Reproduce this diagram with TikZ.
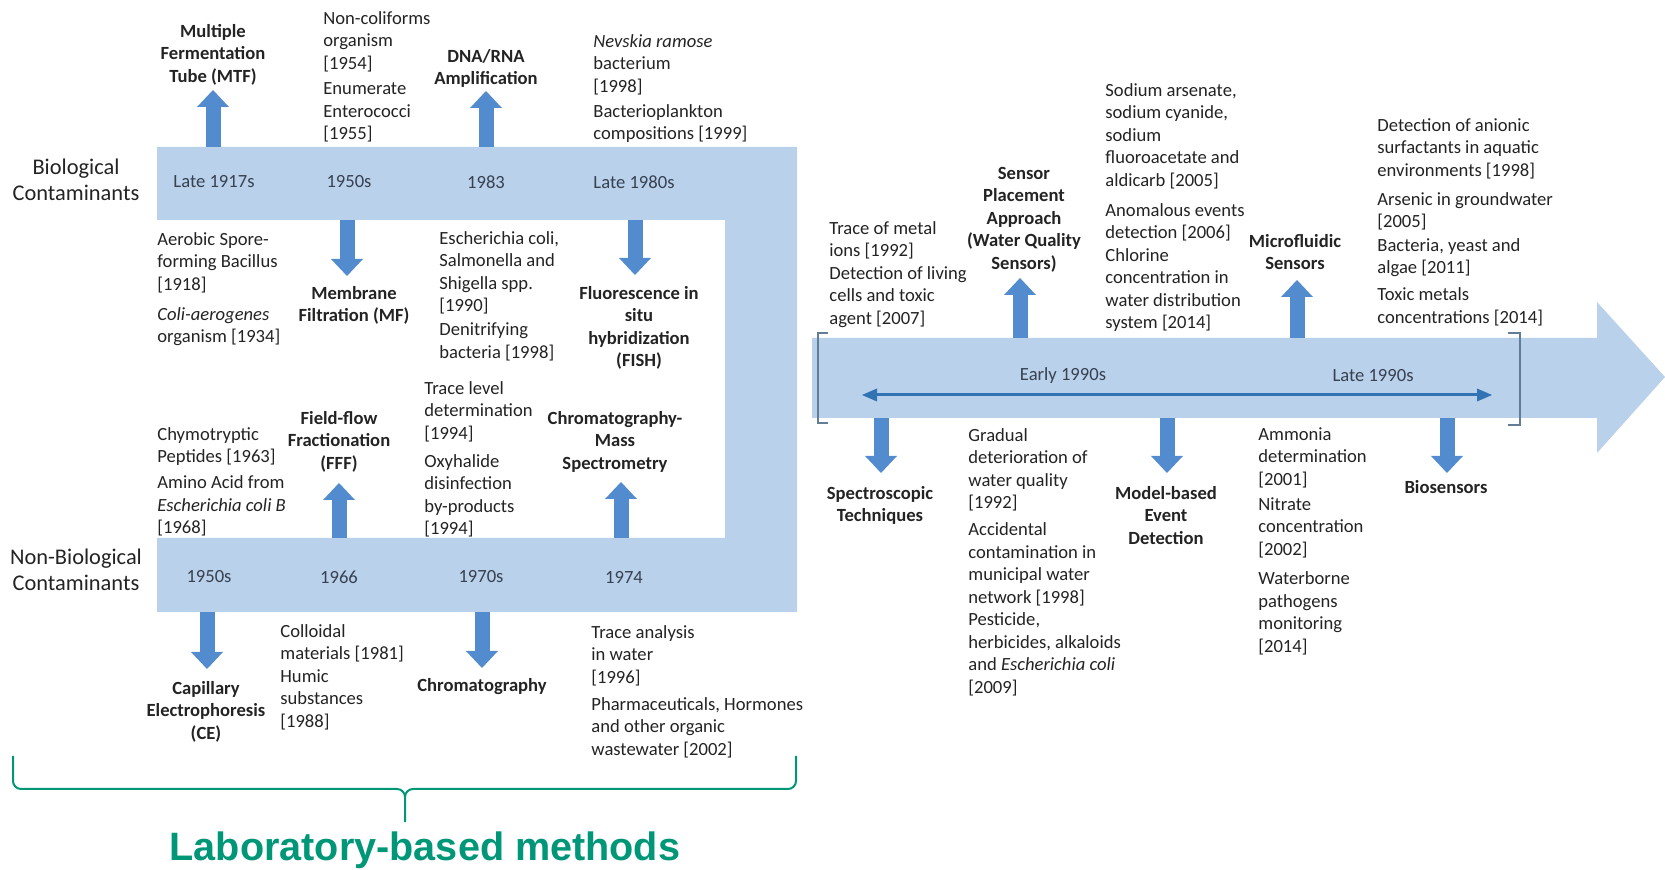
\documentclass[tikz,border=0pt]{standalone}
\usepackage{fontspec}
\setmainfont{Carlito}
\newfontfamily\labfont{Liberation Sans}
\usetikzlibrary{arrows.meta}
\definecolor{bandc}{RGB}{186,209,235}
\definecolor{arrc}{RGB}{82,140,206}
\definecolor{thinc}{RGB}{50,115,180}
\definecolor{txtc}{RGB}{35,35,35}
\definecolor{yrc}{RGB}{55,65,80}
\definecolor{brkc}{RGB}{100,125,150}
\definecolor{teal}{RGB}{0,150,120}
\tikzset{
  txt/.style={anchor=north west, align=left, inner sep=0pt, font=\fontsize{9.3}{11.25}\selectfont, text=txtc},
  lbl/.style={anchor=north, align=center, inner sep=0pt, font=\fontsize{9.3}{11.25}\selectfont\bfseries, text=txtc},
  grp/.style={anchor=north, align=center, inner sep=0pt, font=\fontsize{11.2}{13.3}\selectfont, text=txtc},
  yr/.style={anchor=center, inner sep=0pt, font=\fontsize{9.3}{11.25}\selectfont, text=yrc},
  barrow/.style={draw=arrc, line width=7.5pt, line cap=butt, -{Triangle[length=8.5pt,width=16pt,line width=0pt]}},
  tline/.style={draw=thinc, line width=1.5pt, {Triangle[length=7.5pt,width=6.5pt,line width=0pt]}-{Triangle[length=7.5pt,width=6.5pt,line width=0pt]}},
  brk/.style={draw=brkc, line width=0.8pt},
  brace/.style={draw=teal, line width=1pt},
}
\begin{document}
\begin{tikzpicture}[x=0.5pt,y=-0.5pt]
\useasboundingbox (0,0) rectangle (1665,870);
% bands
\fill[bandc] (157,147) -- (797,147) -- (797,612) -- (157,612) -- (157,538) -- (725,538) -- (725,220) -- (157,220) -- cycle;
\fill[bandc] (812,338) -- (1597,338) -- (1597,302) -- (1665,377) -- (1597,453) -- (1597,418) -- (812,418) -- cycle;
% brackets
\draw[brk] (828,333) -- (818,333) -- (818,423) -- (828,423);
\draw[brk] (1508,333) -- (1520,333) -- (1520,425) -- (1508,425);
% group labels
\node[grp] (bio) at (76,155) {\strut Biological\\Contaminants};
\node[grp] (nonbio) at (76,545) {\strut Non-Biological\\Contaminants};
% year labels
\node[yr] (y1917) at (214,182) {Late 1917s};
\node[yr] (y1950b) at (349,182) {1950s};
\node[yr] (y1983) at (486,182) {1983};
\node[yr] (y1980s) at (634,182) {Late 1980s};
\node[yr] (y1950n) at (209,577) {1950s};
\node[yr] (y1966) at (339,577) {1966};
\node[yr] (y1970s) at (481,577) {1970s};
\node[yr] (y1974) at (624,577) {1974};
\node[yr] (early) at (1063,376) {Early 1990s};
\node[yr] (late) at (1373,376) {Late 1990s};
% method labels
\node[lbl] (mtf) at (213,21) {\strut Multiple\\Fermentation\\Tube (MTF)};
\node[lbl] (dna) at (486,46) {\strut DNA/RNA\\Amplification};
\node[lbl] (mf) at (354,283) {\strut Membrane\\Filtration (MF)};
\node[lbl] (fish) at (639,283) {\strut Fluorescence in\\situ\\hybridization\\(FISH)};
\node[lbl] (fff) at (339,408) {\strut Field-flow\\Fractionation\\(FFF)};
\node[lbl] (cms) at (615,408) {\strut Chromatography-\\Mass\\Spectrometry};
\node[lbl] (ce) at (206,678) {\strut Capillary\\Electrophoresis\\(CE)};
\node[lbl] (chrom) at (482,675) {\strut Chromatography};
\node[lbl] (spa) at (1024,163) {\strut Sensor\\Placement\\Approach\\(Water Quality\\Sensors)};
\node[lbl] (micro) at (1295,231) {\strut Microfluidic\\Sensors};
\node[lbl] (spec) at (880,483) {\strut Spectroscopic\\Techniques};
\node[lbl] (model) at (1166,483) {\strut Model-based\\Event\\Detection};
\node[lbl] (bios) at (1446,477) {\strut Biosensors};
% text blocks
\node[txt] (noncol) at (323,8) {\strut Non-coliforms\\organism\\{}[1954]\\[1.5pt]Enumerate\\Enterococci\\{}[1955]};
\node[txt] (nevskia) at (593,31) {\strut\textit{Nevskia ramose}\\bacterium\\{}[1998]\\[1.25pt]Bacterioplankton\\compositions [1999]};
\node[txt] (aerobic) at (157,229) {\strut Aerobic Spore-\\forming Bacillus\\{}[1918]\\[3.7pt]\textit{Coli-aerogenes}\\organism [1934]};
\node[txt] (escher) at (439,228) {\strut Escherichia coli,\\Salmonella and\\Shigella spp.\\{}[1990]\\[0.75pt]Denitrifying\\bacteria [1998]};
\node[txt] (tracelev) at (424,378) {\strut Trace level\\determination\\{}[1994]\\[2.7pt]Oxyhalide\\disinfection\\by-products\\{}[1994]};
\node[txt] (chymo) at (157,424) {\strut Chymotryptic\\Peptides [1963]\\[1.7pt]Amino Acid from\\\textit{Escherichia coli B}\\{}[1968]};
\node[txt] (colloid) at (280,621) {\strut Colloidal\\materials [1981]\\Humic\\substances\\{}[1988]};
\node[txt] (traceana) at (591,622) {\strut Trace analysis\\in water\\{}[1996]\\[2.2pt]Pharmaceuticals, Hormones\\and other organic\\wastewater [2002]};
\node[txt] (tracemet) at (829,218) {\strut Trace of metal\\ions [1992]\\Detection of living\\cells and toxic\\agent [2007]};
\node[txt] (sodium) at (1105,80) {\strut Sodium arsenate,\\sodium cyanide,\\sodium\\fluoroacetate and\\aldicarb [2005]\\[3.7pt]Anomalous events\\detection [2006]\\Chlorine\\concentration in\\water distribution\\system [2014]};
\node[txt] (anionic) at (1377,115) {\strut Detection of anionic\\surfactants in aquatic\\environments [1998]\\[3.2pt]Arsenic in groundwater\\{}[2005]\\[0.7pt]Bacteria, yeast and\\algae [2011]\\[2.2pt]Toxic metals\\concentrations [2014]};
\node[txt] (gradual) at (968,425) {\strut Gradual\\deterioration of\\water quality\\{}[1992]\\[2.2pt]Accidental\\contamination in\\municipal water\\network [1998]\\Pesticide,\\herbicides, alkaloids\\and \textit{Escherichia coli}\\{}[2009]};
\node[txt] (ammonia) at (1258,424) {\strut Ammonia\\determination\\{}[2001]\\[1.2pt]Nitrate\\concentration\\{}[2002]\\[3.7pt]Waterborne\\pathogens\\monitoring\\{}[2014]};
% arrow end points
\coordinate (mtfS) at (213,147); \coordinate (mtfT) at (213,90);
\coordinate (dnaS) at (486,147); \coordinate (dnaT) at (486,91);
\coordinate (mfS) at (347,220); \coordinate (mfT) at (347,276);
\coordinate (fishS) at (635,220); \coordinate (fishT) at (635,275);
\coordinate (fffS) at (339,538); \coordinate (fffT) at (339,483);
\coordinate (cmsS) at (621,538); \coordinate (cmsT) at (621,482);
\coordinate (ceS) at (207,612); \coordinate (ceT) at (207,669);
\coordinate (chromS) at (482,612); \coordinate (chromT) at (482,668);
\coordinate (spaS) at (1020,338); \coordinate (spaT) at (1020,278);
\coordinate (microS) at (1297,338); \coordinate (microT) at (1297,280);
\coordinate (specS) at (881,418); \coordinate (specT) at (881,473);
\coordinate (modelS) at (1167,418); \coordinate (modelT) at (1167,473);
\coordinate (biosS) at (1447,418); \coordinate (biosT) at (1447,473);
\foreach \a in {mtf,dna,mf,fish,fff,cms,ce,chrom,spa,micro,spec,model,bios}
  \draw[barrow] (\a S) -- (\a T);
% timeline arrow
\coordinate (tlL) at (862,395); \coordinate (tlR) at (1492,395);
\draw[tline] (tlL) -- (tlR);
% brace
\draw[brace] (13,756) -- (13,781) to[out=-90,in=180] (21,789) -- (397,789) to[out=0,in=90] (405,797) -- (405,822)
  (405,797) to[out=90,in=180] (413,789) -- (788,789) to[out=0,in=-90] (796,781) -- (796,756);
\node[anchor=base, inner sep=0pt, text=teal, font=\labfont\bfseries\fontsize{19.8}{23}\selectfont] (lab) at (425,860) {Laboratory-based methods};
\end{tikzpicture}
\end{document}
